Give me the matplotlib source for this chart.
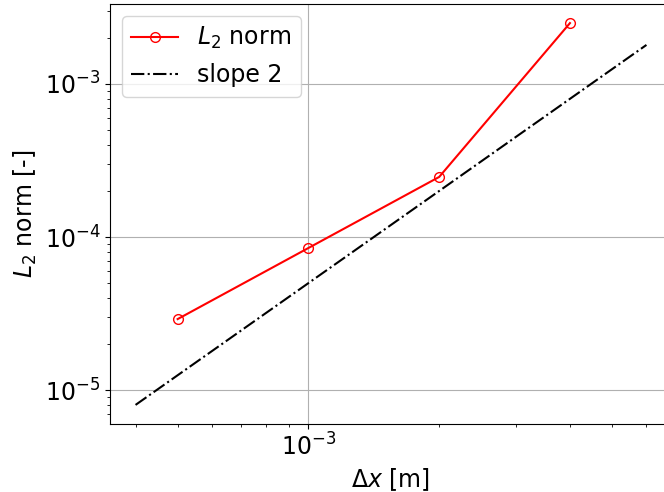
import numpy as np
import matplotlib
matplotlib.use("Agg")
import matplotlib.pyplot as plt

# Grid spacing and error norm
dx = [5e-4, 1e-3, 2e-3, 4e-3]
l2_norm = [2.91e-5, 8.48e-5, 2.47e-4, 2.5e-3]

# Reference second-order slope
dx_ref = [4e-4, 6e-3]
slope_coef = 50.0

plt.rcParams["font.size"] = 17

fig = plt.figure(figsize=(6.64, 4.92), dpi=100)
ax = fig.add_axes([110 / 664, 68 / 492, 562 / 664, 420 / 492])

ax.loglog(dx, l2_norm, "r-o", mfc="none", markersize=7, label="$L_2$ norm")
ref = np.array(dx_ref)
ax.loglog(ref, slope_coef * ref**2, "k-.", label="slope 2")

ax.grid(True, which="major")
ax.set_xlabel(r"$\Delta x$ [m]")
ax.set_ylabel("$L_2$ norm [-]")
ax.legend(loc="upper left")

fig.savefig("out.png", dpi=100)
